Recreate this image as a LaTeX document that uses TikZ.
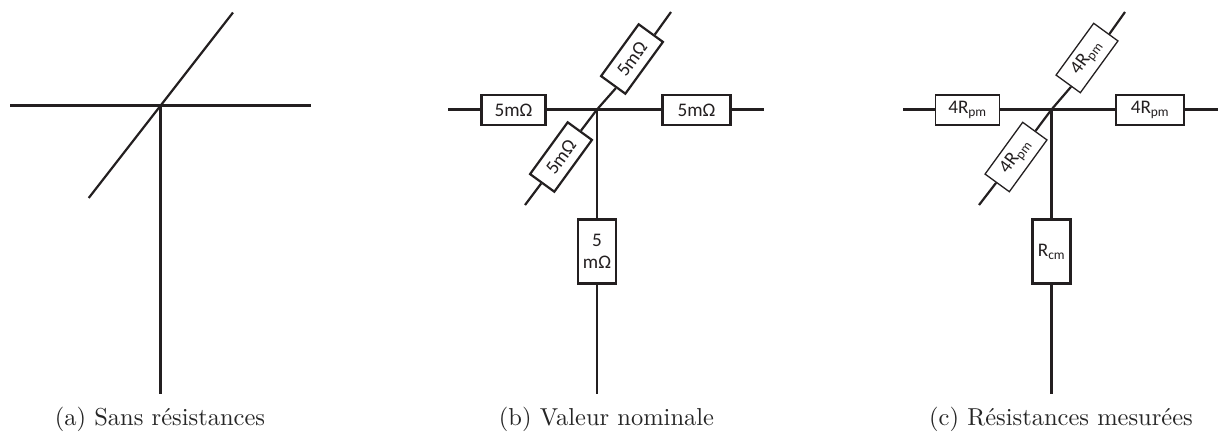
\documentclass[tikz,border=0pt]{standalone}
\usepackage{fontspec}
\newfontfamily\boxfont{Carlito}
\usepackage{xcolor}
\definecolor{wirecol}{RGB}{35,31,32}
\tikzset{
  wire/.style={wirecol, line width=2.2pt},
  resbox/.style={draw=wirecol, line width=2.2pt, fill=white, inner sep=0pt, align=center, font=\boxfont\fontsize{19.2}{22}\selectfont, text=wirecol},
  resthin/.style={resbox, line width=1.3pt},
  caption/.style={scale=2.45, anchor=base, text=black!85}
}
\begin{document}
\begin{tikzpicture}[x=1pt,y=-1pt]
\useasboundingbox (0,0) rectangle (1218,432);

% Sans resistances
\coordinate (ctra) at (160.5,105.5);
\coordinate (wa) at (10,105.5);
\coordinate (ea) at (311,105.5);
\coordinate (nea) at (233,12.5);
\coordinate (swa) at (88.7,198);
\coordinate (sa) at (160.5,394);
\draw[wire] (wa) -- (ea);
\draw[wire] (swa) -- (nea);
\draw[wire] (ctra) -- (sa);

% Valeur nominale
\coordinate (ctrb) at (597,109.5);
\coordinate (wb) at (448,109.5);
\coordinate (eb) at (764,109.5);
\coordinate (neb) at (671,12);
\coordinate (swb) at (525,205);
\coordinate (sb) at (597,394);
\node[resbox, minimum width=64pt, minimum height=30pt] (rwb) at (513.5,110) {5mΩ};
\node[resbox, minimum width=68pt, minimum height=30pt] (reb) at (696.5,110) {5mΩ};
\node[resbox, rotate=54, minimum width=64pt, minimum height=30pt] (rneb) at (632,59) {5mΩ};
\node[resbox, rotate=54, minimum width=64pt, minimum height=30pt] (rswb) at (561,157) {5mΩ};
\node[resbox, minimum width=38pt, minimum height=64pt] (rsb) at (597,251.5) {5\\mΩ};
\draw[wire] (wb) -- (rwb.west |- wb);
\draw[wire] (rwb.east |- ctrb) -- (ctrb) -- (reb.west |- ctrb);
\draw[wire] (reb.east |- eb) -- (eb);
\draw[wire] (swb) -- (rswb);
\draw[wire] (rswb) -- (ctrb) -- (rneb.187);
\draw[wire] (rneb.353) -- (neb);
\draw[wire] (ctrb) -- (rsb);
\draw[wire] (rsb) -- (sb);

% Resistances mesurees
\coordinate (ctrc) at (1051.5,109.5);
\coordinate (wc) at (903,109.5);
\coordinate (ec) at (1218,109.5);
\coordinate (nec) at (1125,12);
\coordinate (swc) at (979,205);
\coordinate (sc) at (1051.5,394);
\node[resthin, minimum width=64pt, minimum height=30pt] (rwc) at (967.5,110) {4R\textsubscript{pm}};
\node[resthin, minimum width=68pt, minimum height=30pt] (rec) at (1150,110) {4R\textsubscript{pm}};
\node[resthin, rotate=54, minimum width=64pt, minimum height=30pt] (rnec) at (1087,58) {4R\textsubscript{pm}};
\node[resthin, rotate=54, minimum width=64pt, minimum height=30pt] (rswc) at (1016,157) {4R\textsubscript{pm}};
\node[resbox, minimum width=38pt, minimum height=64pt] (rsc) at (1051.5,251.5) {R\textsubscript{cm}};
\draw[wire] (wc) -- (rwc.west |- wc);
\draw[wire] (rwc.east |- ctrc) -- (ctrc) -- (rec.west |- ctrc);
\draw[wire] (rec.east |- ec) -- (ec);
\draw[wire] (swc) -- (rswc);
\draw[wire] (rswc) -- (ctrc) -- (rnec.187);
\draw[wire] (rnec.353) -- (nec);
\draw[wire] (ctrc) -- (rsc);
\draw[wire] (rsc) -- (sc);

% Captions
\node[caption] (capa) at (160,425.5) {(a) Sans résistances};
\node[caption] (capb) at (606.5,425.5) {(b) Valeur nominale};
\node[caption] (capc) at (1061,425.5) {(c) Résistances mesurées};
\end{tikzpicture}
\end{document}
